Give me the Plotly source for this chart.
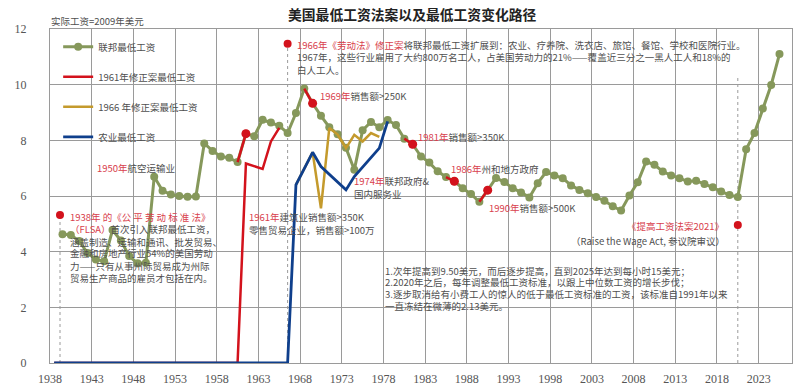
import plotly.graph_objects as go

# ---------------- data ----------------
fed_years = list(range(1939, 2026))
fed_wage = [4.63, 4.60, 4.38, 3.95, 3.72, 3.66, 4.78, 4.40, 3.84, 3.58, 3.60,
            6.69, 6.19, 6.05, 6.00, 5.97, 5.98, 7.89, 7.62, 7.42, 7.37, 7.22,
            8.24, 8.15, 8.74, 8.64, 8.52, 8.26, 8.98, 9.86, 9.33, 8.88,
            8.47, 8.22, 7.73, 6.94, 8.36, 8.66, 8.47, 8.73, 8.55, 8.06,
            7.86, 7.42, 7.20, 6.89, 6.68, 6.53, 6.28, 6.07, 5.79, 6.21,
            6.65, 6.50, 6.28, 6.13, 5.95, 6.46, 6.86, 6.74, 6.64, 6.38,
            6.22, 6.10, 5.96, 5.83, 5.63, 5.48, 6.02, 6.49, 7.24, 7.12,
            6.88, 6.74, 6.64, 6.52, 6.55, 6.43, 6.31, 6.16, 6.04, 5.96,
            7.68, 8.26, 9.14, 9.99, 11.10]

amend1961_years = list(range(1938, 1966))
amend1961_wage = [0.0] * 23 + [7.17, 7.07, 6.97, 7.96, 8.45]

amend1966_years = list(range(1967, 1978))
amend1966_wage = [6.40, 7.00, 7.57, 5.56, 8.44, 8.21, 7.72, 8.20, 7.96, 8.26, 8.12]

farm_years = list(range(1938, 1979))
farm_wage = [0.0] * 29 + [6.40, 7.00, 7.57, 7.06, 6.78, 6.50, 6.22, 6.70, 7.05, 7.40, 7.72, 8.68]

# years where coverage thresholds changed (red highlighted step ending that year)
threshold_years = [1961, 1969, 1981, 1986, 1990]

# law events: year and marker height
event_years = [1939, 1966, 2020]
event_marks = [5.32, 11.47, 4.96]

x_ticks = list(range(1938, 2024, 5))

# ---------------- style ----------------
GREEN = "#86985b"
RED = "#d3121c"
GOLD = "#c49a2c"
BLUE = "#0f3f8c"
TXT_RED = "#d8404c"
GRAY = "#4f4f4f"
GRID = "#9a9a9a"
FONT = "Noto Sans CJK SC"
FS = 9.5

L, R, T, B = 50, 792, 29, 363


def mid(years):
    return [y + 0.5 for y in years]


fig = go.Figure()

fig.add_trace(go.Scatter(x=mid(fed_years), y=fed_wage, mode="lines+markers",
                         name="联邦最低工资", legendgroup="a", legendrank=1,
                         line=dict(color=GREEN, width=3),
                         marker=dict(color=GREEN, size=8)))
fig.add_trace(go.Scatter(x=mid(amend1966_years), y=amend1966_wage, mode="lines",
                         name="1966 年修正案最低工资", legendgroup="c", legendrank=3,
                         line=dict(color=GOLD, width=2.5)))
fig.add_trace(go.Scatter(x=mid(amend1961_years), y=amend1961_wage, mode="lines",
                         name="1961年修正案最低工资", legendgroup="b", legendrank=2,
                         line=dict(color=RED, width=2.5)))
fig.add_trace(go.Scatter(x=mid(farm_years), y=farm_wage, mode="lines",
                         name="农业最低工资", legendgroup="d", legendrank=4,
                         line=dict(color=BLUE, width=2.8)))

# red highlighted threshold steps
for yr in threshold_years:
    i = fed_years.index(yr)
    fig.add_trace(go.Scatter(x=mid(fed_years[i - 1:i + 1]), y=fed_wage[i - 1:i + 1],
                             mode="lines", line=dict(color=RED, width=2.5),
                             showlegend=False, hoverinfo="skip"))
th_idx = [fed_years.index(y) for y in threshold_years]
fig.add_trace(go.Scatter(x=mid(threshold_years), y=[fed_wage[i] for i in th_idx],
                         mode="markers", marker=dict(color=RED, size=9),
                         showlegend=False))

# event markers + dotted lines
ev_x = [1939.2, 1966.5, 2020.5]
for x, top in zip(ev_x, [event_marks[0], event_marks[1], 10.3]):
    fig.add_shape(type="line", x0=x, x1=x, y0=0, y1=top, xref="x", yref="y",
                  line=dict(color="#9a9a9a", width=1, dash="dot"), layer="below")
fig.add_trace(go.Scatter(x=ev_x, y=event_marks, mode="markers",
                         marker=dict(color=RED, size=8), showlegend=False))


def ax(px):
    return (px - L) / (R - L)


def ay(py):
    return (B - py) / (B - T)


def red(s):
    return f"<span style='color:{TXT_RED}'>{s}</span>"


notes = [
    (95, 168, "left", red("1950年") + "航空运输业"),
    (68, 216.5, "left", red("1938年 的《公 平 劳 动 标 准 法》")),
    (68, 229.3, "left", red("（FLSA）") + "首次引入联邦最低工资，"),
    (68, 241.7, "left", "涵盖制造、运输和通讯、批发贸易、"),
    (68, 253.5, "left", "金融和房地产行业54%的美国劳动"),
    (68, 265.5, "left", "力——只有从事州际贸易成为州际"),
    (68, 277.7, "left", "贸易生产商品的雇员才包括在内。"),
    (295, 45, "left", red("1966年《劳动法》修正案") + "将联邦最低工资扩展到：农业、疗养院、洗衣店、旅馆、餐馆、学校和医院行业。"),
    (295, 57, "left", "1967年，这些行业雇用了大约800万名工人，占美国劳动力的21%——覆盖近三分之一黑人工人和18%的"),
    (295, 69.5, "left", "白人工人。"),
    (318, 96, "left", red("1969年") + "销售额>250K"),
    (416, 137.3, "left", red("1981年") + "销售额>350K"),
    (449, 169.3, "left", red("1986年") + "州和地方政府"),
    (487, 208.3, "left", red("1990年") + "销售额>500K"),
    (352, 181, "left", red("1974年") + "联邦政府&"),
    (352, 194, "left", "国内服务业"),
    (247, 216.7, "left", red("1961年") + "建筑业销售额>350K"),
    (247, 230, "left", "零售贸易企业，销售额>100万"),
    (726, 226, "right", red("《提高工资法案2021》")),
    (727, 240.7, "right", "（Raise the Wage Act, 参议院审议）"),
    (383, 270.7, "left", "1.次年提高到9.50美元，而后逐步提高，直到2025年达到每小时15美元；"),
    (383, 282.2, "left", "2.2020年之后，每年调整最低工资标准，以跟上中位数工资的增长步伐；"),
    (383, 294.0, "left", "3.逐步取消给有小费工人的惊人的低于最低工资标准的工资，该标准自1991年以来"),
    (383, 305.5, "left", "一直冻结在微薄的2.13美元。"),
]
annotations = []
for px, py, anchor, text in notes:
    annotations.append(dict(x=ax(px), y=ay(py), xref="paper", yref="paper",
                            xanchor=anchor, yanchor="middle", text=text,
                            showarrow=False, font=dict(size=FS, color=GRAY, family=FONT)))

annotations.append(dict(x=ax(412), y=ay(14), xref="paper", yref="paper",
                        xanchor="center", yanchor="middle",
                        text="<b>美国最低工资法案以及最低工资变化路径</b>", showarrow=False,
                        font=dict(size=13.8, color="#222222", family=FONT)))
annotations.append(dict(x=ax(49), y=ay(20.5), xref="paper", yref="paper",
                        xanchor="left", yanchor="middle",
                        text="实际工资=2009年美元", showarrow=False,
                        font=dict(size=FS, color=GRAY, family=FONT)))

fig.update_layout(
    width=800, height=386,
    margin=dict(l=L, r=800 - R, t=T, b=386 - B),
    paper_bgcolor="white", plot_bgcolor="white",
    font=dict(family=FONT, color=GRAY, size=10),
    showlegend=True,
    legend=dict(x=0.011, y=0.99, xanchor="left", yanchor="top",
                bgcolor="rgba(0,0,0,0)", tracegroupgap=11,
                font=dict(size=FS, color=GRAY, family=FONT),
                traceorder="grouped"),
    annotations=annotations,
    xaxis=dict(range=[1938, 2027], tickmode="array", tickvals=x_ticks,
               ticktext=[str(v) for v in x_ticks], automargin=False,
               showgrid=True, gridcolor=GRID, gridwidth=1,
               showline=True, mirror=True, linecolor=GRID, linewidth=1,
               zeroline=False, ticks="", ticklabelstandoff=5,
               tickfont=dict(family="Liberation Sans Narrow", size=12, color="#555555")),
    yaxis=dict(range=[0, 12], tickmode="linear", tick0=0, dtick=2, automargin=False,
               showgrid=True, gridcolor=GRID, gridwidth=1,
               showline=True, mirror=True, linecolor=GRID, linewidth=1,
               zeroline=False, ticks="", ticklabelstandoff=20,
               tickfont=dict(family="Liberation Sans Narrow", size=12, color="#555555")),
)

fig.write_html("out.html", config={"displayModeBar": False},
               post_script="document.body.style.margin='0px';document.body.style.padding='0px';")
